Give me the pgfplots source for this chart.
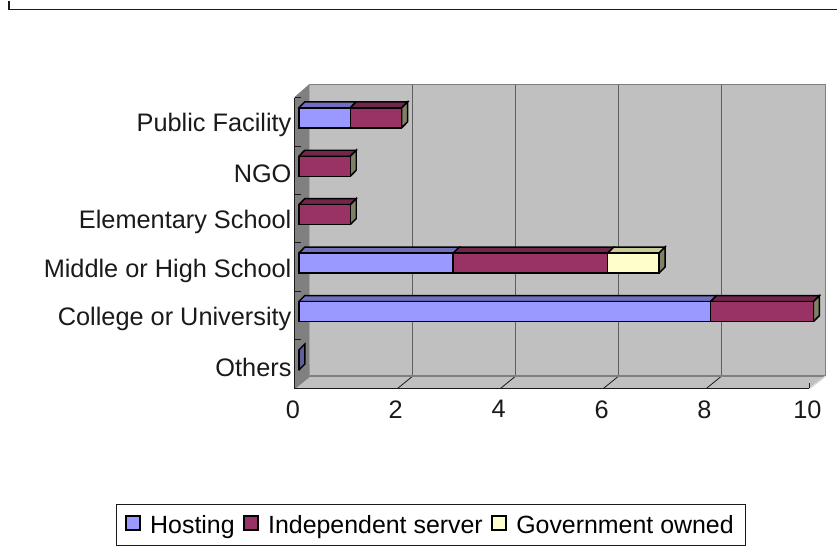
\documentclass[border=0pt]{standalone}
\usepackage{pgfplots}
\pgfplotsset{compat=1.18}
\usepackage{fontspec}
\setmainfont{Liberation Sans}
\definecolor{hostF}{HTML}{9999FF}
\definecolor{hostT}{HTML}{7070BF}
\definecolor{hostS}{HTML}{5F5F99}
\definecolor{indF}{HTML}{993366}
\definecolor{indT}{HTML}{73264D}
\definecolor{govF}{HTML}{FFFFCC}
\definecolor{govT}{HTML}{CCCC99}
\definecolor{govS}{HTML}{808066}
\definecolor{wall}{HTML}{C0C0C0}
\definecolor{lwall}{HTML}{808080}
\definecolor{gridc}{HTML}{5F5F5F}
\definecolor{ink}{HTML}{1A1A1A}
\pgfplotsset{
  face/.style={fill=#1,draw=black,line width=1.1pt,xshift=3pt,yshift=3pt,forget plot,sharp plot,stack plots=false},
  front/.style={fill=#1,draw=black,line width=1.1pt,xshift=3pt,yshift=3pt,xbar,stack plots=x,bar shift=0pt,bar width=15pt,
    legend image code/.code={\path (0pt,0pt) (10.5pt,0pt);\fill[overlay,draw=black,line width=1.1pt,fill=#1] (0pt,-6.85pt) rectangle (10.5pt,3.65pt);}}
}
\newcommand{\topface}[4]{\addplot[face=#4]
  coordinates {(#1,#3+0.206) (#2,#3+0.206) (#2+0.1165,#3+0.33) (#1+0.1165,#3+0.33) (#1,#3+0.206)};}
\newcommand{\sideface}[3]{\addplot[face=#3]
  coordinates {(#1,#2-0.206) (#1+0.1165,#2-0.082) (#1+0.1165,#2+0.33) (#1,#2+0.206) (#1,#2-0.206)};}
\newcommand{\ytk}[1]{\draw[ink,line width=0.7pt] (axis cs:0,#1) -- ++(4.5pt,0pt);}
\begin{document}
\begin{tikzpicture}
\begin{axis}[
  scale only axis,
  width=386.25pt,
  height=218.25pt,
  at={(221.25pt,119.25pt)},
  anchor=south west,
  xmin=0,xmax=10,
  ymin=-0.5,ymax=5.5,
  clip=false,
  axis line style={draw=none},
  xtick={0,2,4,6,8,10},
  ytick={0,1,2,3,4,5},
  yticklabels={Others,College or University,Middle or High School,Elementary School,NGO,Public Facility},
  major tick length=0pt,
  tick align=inside,
  tick label style={font=\fontsize{19}{21}\selectfont,text=ink},
  /pgf/number format/assume math mode=true,
  yticklabel style={xshift=1pt,yshift=-2.6pt},
  xticklabel style={yshift=-5.5pt,xshift=-1.5pt},
  legend style={at={(-0.3476,-0.3986)},anchor=north west,font=\fontsize{18.7}{21}\selectfont,draw=ink,line width=0.7pt,
    legend columns=-1,/tikz/every even column/.append style={column sep=4.5pt},/tikz/every odd column/.append style={column sep=5pt},inner xsep=6.8pt,inner ysep=5.75pt,cells={anchor=west}},
]
% walls and floor
\fill[wall] (axis cs:0.29,0.0) -- (axis cs:0,-0.5) -- (axis cs:10,-0.5) -- (axis cs:10.31,-0.25) -- (axis cs:10.31,5.77) -- (axis cs:0.29,5.77) -- cycle;
\fill[wall] (axis cs:0.29,-0.25) -- (axis cs:10.31,-0.25) -- (axis cs:10,-0.5) -- (axis cs:0,-0.5) -- cycle;
\fill[lwall] (axis cs:0,-0.5) -- (axis cs:0.29,-0.25) -- (axis cs:0.29,5.77) -- (axis cs:0,5.5) -- cycle;
\draw[gridc,line width=0.9pt] (axis cs:2.29,-0.25) -- (axis cs:2.29,5.77);
\draw[gridc,line width=0.9pt] (axis cs:4.29,-0.25) -- (axis cs:4.29,5.77);
\draw[gridc,line width=0.9pt] (axis cs:6.29,-0.25) -- (axis cs:6.29,5.77);
\draw[gridc,line width=0.9pt] (axis cs:8.29,-0.25) -- (axis cs:8.29,5.77);
\draw[ink,line width=0.6pt] (axis cs:2,-0.5) -- (axis cs:2.29,-0.25);
\draw[ink,line width=0.6pt] (axis cs:4,-0.5) -- (axis cs:4.29,-0.25);
\draw[ink,line width=0.6pt] (axis cs:6,-0.5) -- (axis cs:6.29,-0.25);
\draw[ink,line width=0.6pt] (axis cs:8,-0.5) -- (axis cs:8.29,-0.25);
\draw[gridc!80!white,line width=1.3pt] (axis cs:0.29,5.77) -- (axis cs:10.31,5.77);
\draw[gridc!80!white,line width=1.1pt] (axis cs:0.29,-0.25) -- (axis cs:10.31,-0.25);
\draw[gridc!80!white,line width=0.8pt] (axis cs:0,-0.5) -- (axis cs:0.29,-0.25);
\draw[gridc!80!white,line width=0.8pt] (axis cs:0,5.5) -- (axis cs:0.29,5.77);
\draw[gridc!80!white,line width=1.1pt] (axis cs:10.31,5.77) -- (axis cs:10.31,-0.25);
\draw[wall!70!white,line width=1pt] (axis cs:10.31,-0.25) -- (axis cs:10,-0.5);
\draw[ink,line width=0.9pt] (axis cs:0,5.5) -- (axis cs:0,-0.5) -- (axis cs:10,-0.5);
\draw[ink,line width=0.6pt] (axis cs:10,-0.5) -- (axis cs:10,-0.4);
\ytk{4.5}\ytk{3.5}\ytk{2.5}\ytk{1.5}\ytk{0.5}\ytk{5.5}
% 3D faces
\topface{0}{1}{5}{hostT}\topface{1}{2}{5}{indT}\sideface{2}{5}{govS}
\topface{0}{1}{4}{indT}\sideface{1}{4}{govS}
\topface{0}{1}{3}{indT}\sideface{1}{3}{govS}
\topface{0}{3}{2}{hostT}\topface{3}{6}{2}{indT}\topface{6}{7}{2}{govT}\sideface{7}{2}{govS}
\topface{0}{8}{1}{hostT}\topface{8}{10}{1}{indT}\sideface{10}{1}{govS}
\sideface{0}{0}{hostS}
% front faces
\addplot[front=hostF] coordinates {(0,0) (8,1) (3,2) (0,3) (0,4) (1,5)};
\addplot[front=indF] coordinates {(0,0) (2,1) (3,2) (1,3) (1,4) (1,5)};
\addplot[front=govF] coordinates {(0,0) (0,1) (1,2) (0,3) (0,4) (0,5)};
\legend{Hosting,Independent server,Government owned}
\end{axis}
\draw[ink,line width=0.9pt] (6.75pt,410.25pt) -- (6.75pt,403.5pt) -- (628.5pt,403.5pt);
\path (0,0) rectangle (628.5pt,410.25pt);
\end{tikzpicture}
\end{document}
